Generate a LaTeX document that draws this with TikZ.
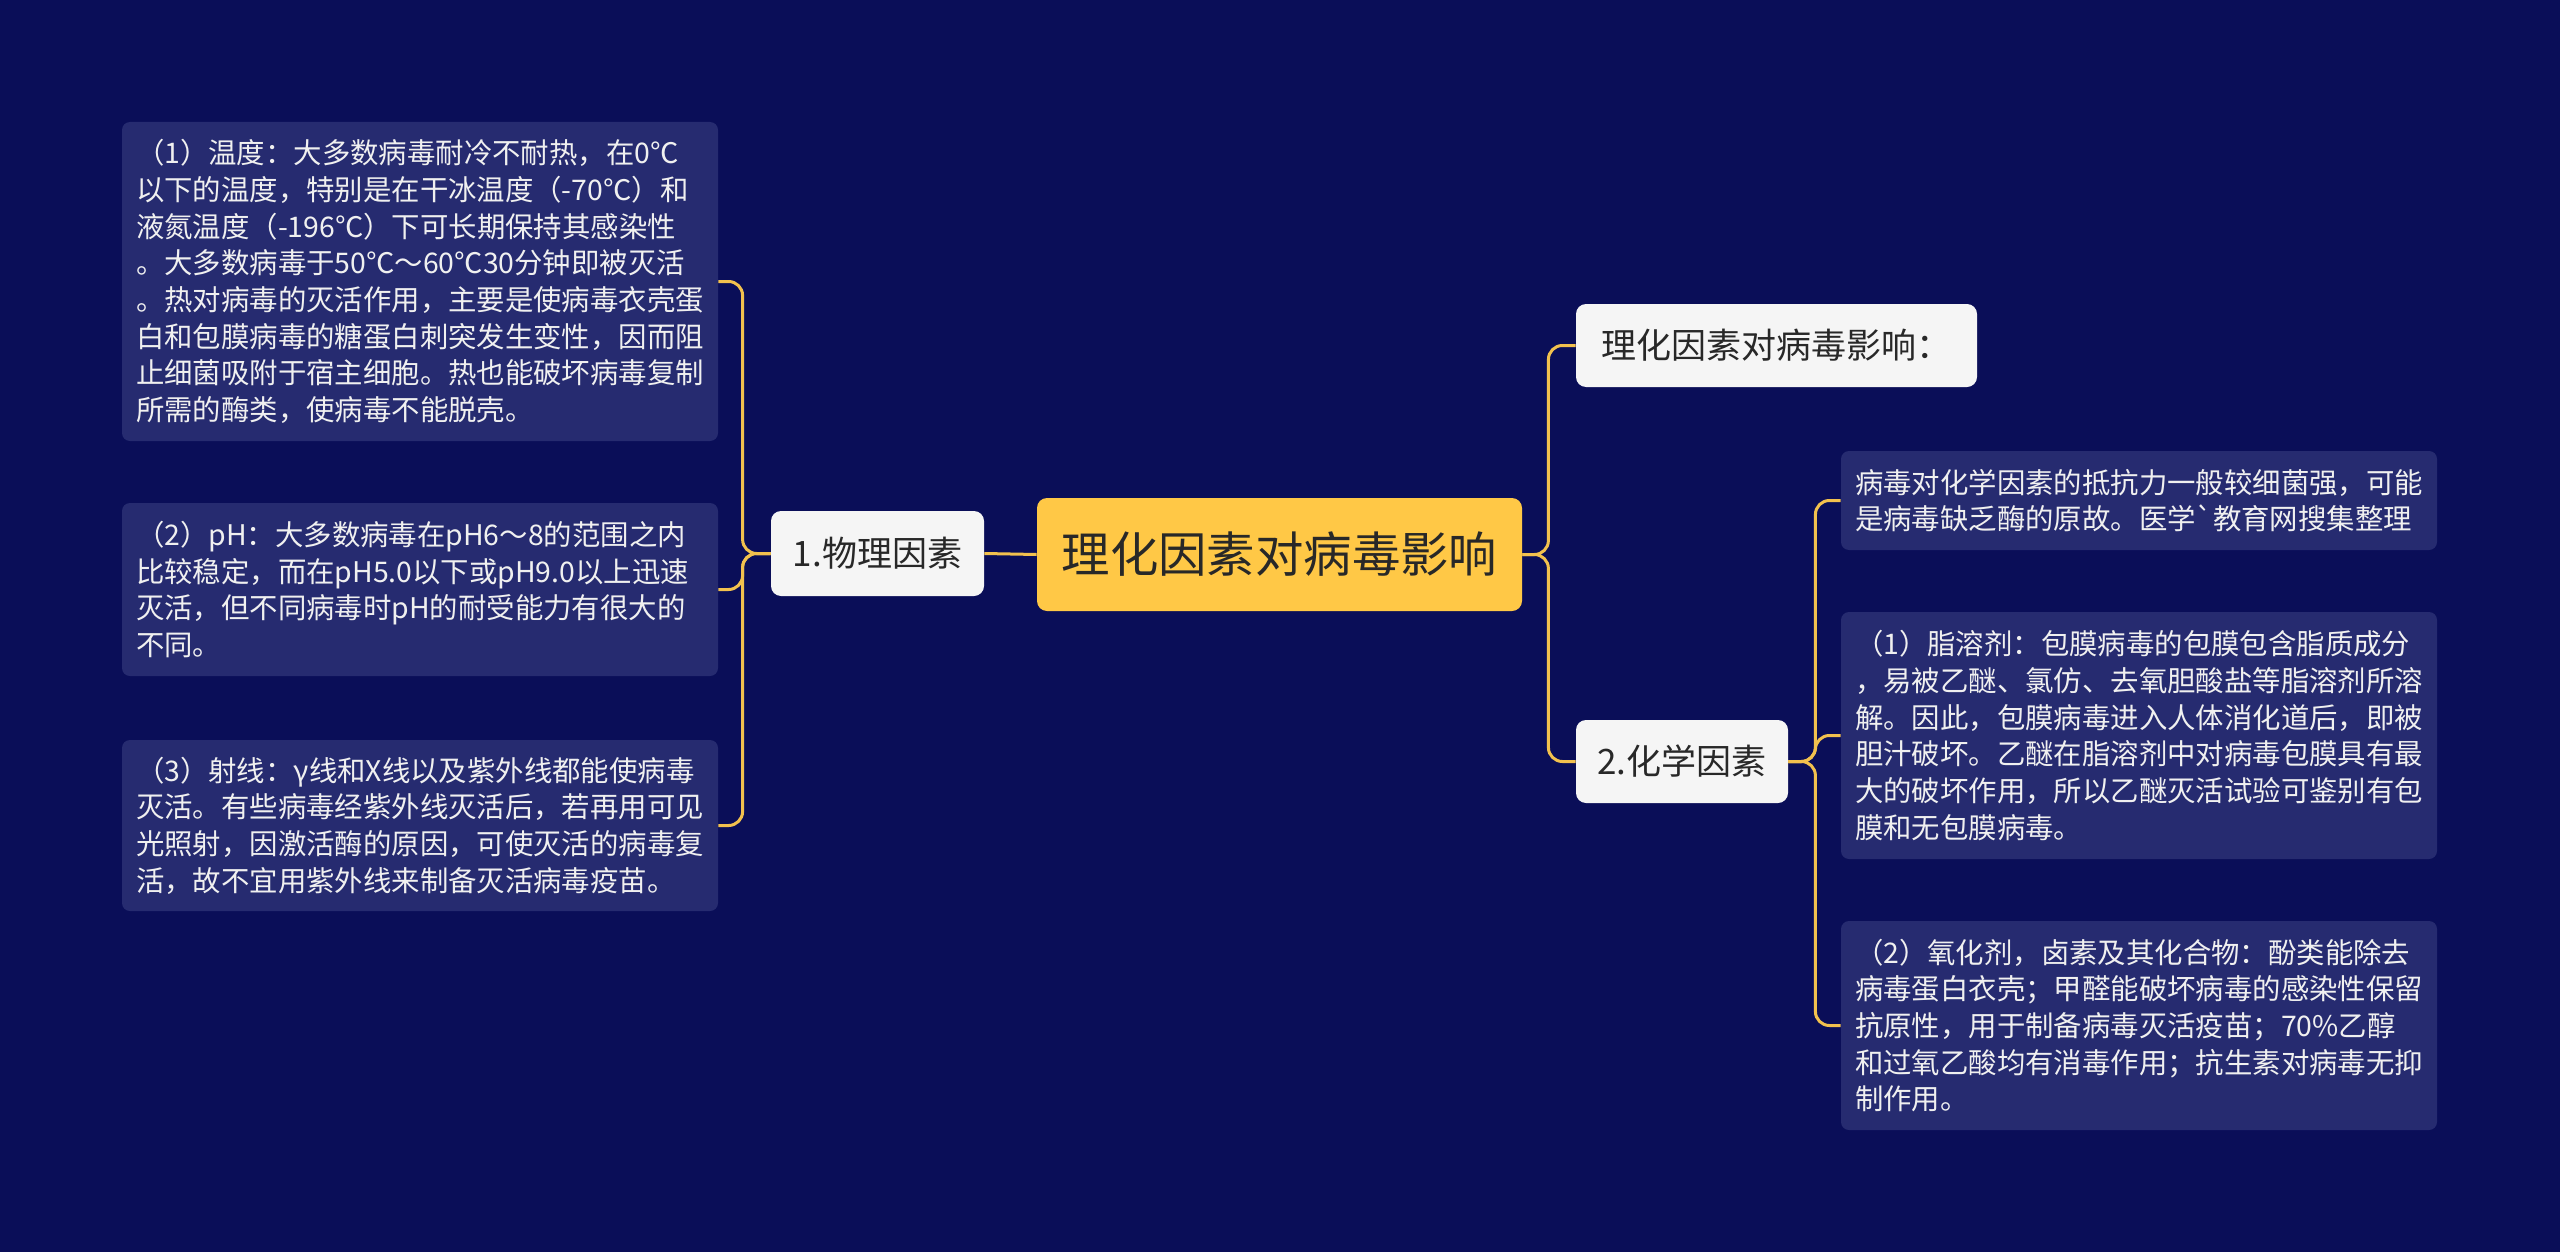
\documentclass[tikz,border=0pt]{standalone}
\usepackage{fontspec}
\setmainfont{Noto Sans CJK SC}[Ligatures=TeXOff]
\definecolor{bgc}{RGB}{10,14,88}
\definecolor{leaffill}{RGB}{38,43,112}
\definecolor{rootfill}{RGB}{255,200,70}
\definecolor{linec}{RGB}{242,193,78}
\definecolor{darktext}{RGB}{40,40,40}
\definecolor{lightfill}{RGB}{245,245,245}
\begin{document}
\begin{tikzpicture}[x=0.5pt,y=-0.5pt,
  leaf/.style={draw=none,fill=leaffill,rounded corners=4pt,text=white!94!black,
    font=\fontsize{14.2pt}{18.35pt}\selectfont,align=left,text width=284pt,
    inner xsep=7pt,inner ysep=0pt,minimum width=298pt,anchor=center},
  levelone/.style={draw=none,fill=lightfill,rounded corners=5pt,text=darktext,
    font=\fontsize{17.5pt}{21pt}\selectfont,inner sep=0pt,anchor=center},
  rootbox/.style={draw=none,fill=rootfill,rounded corners=5pt,text=darktext,
    font=\fontsize{24.2pt}{28pt}\selectfont,inner sep=0pt,anchor=center,
    minimum width=242.5pt,minimum height=56.5pt},
  conn/.style={draw=linec,line width=1.5pt,rounded corners=7pt}]
\fill[bgc] (0,0) rectangle (2560,1252);
\useasboundingbox (0,0) rectangle (2560,1252);

% root
\node[rootbox] (root) at (1279.5,554.5) {理化因素对病毒影响};

% level one
\node[levelone,minimum width=106.5pt,minimum height=42.5pt] (phys) at (877.5,553.5) {1.物理因素};
\node[levelone,minimum width=200.5pt,minimum height=41.5pt] (intro) at (1776.5,345.5) {理化因素对病毒影响：};
\node[levelone,minimum width=106pt,minimum height=41.5pt] (chem) at (1682,761.5) {2.化学因素};

% left leaves
\node[leaf,minimum height=159.5pt] (l1) at (420,281.5) {（1）温度：大多数病毒耐冷不耐热，在0℃\\以下的温度，特别是在干冰温度（-70℃）和\\液氮温度（-196℃）下可长期保持其感染性\\。大多数病毒于50℃～60℃30分钟即被灭活\\。热对病毒的灭活作用，主要是使病毒衣壳蛋\\白和包膜病毒的糖蛋白刺突发生变性，因而阻\\止细菌吸附于宿主细胞。热也能破坏病毒复制\\所需的酶类，使病毒不能脱壳。};
\node[leaf,minimum height=86.5pt] (l2) at (420,589.5) {（2）pH：大多数病毒在pH6～8的范围之内\\比较稳定，而在pH5.0以下或pH9.0以上迅速\\灭活，但不同病毒时pH的耐受能力有很大的\\不同。};
\node[leaf,minimum height=85.5pt] (l3) at (420,825.5) {（3）射线：γ线和X线以及紫外线都能使病毒\\灭活。有些病毒经紫外线灭活后，若再用可见\\光照射，因激活酶的原因，可使灭活的病毒复\\活，故不宜用紫外线来制备灭活病毒疫苗。};

% right leaves
\node[leaf,minimum height=49.5pt] (r1) at (2139,500.5) {病毒对化学因素的抵抗力一般较细菌强，可能\\是病毒缺乏酶的原故。医学`教育网搜集整理};
\node[leaf,minimum height=123.5pt] (r2) at (2139,735.5) {（1）脂溶剂：包膜病毒的包膜包含脂质成分\\，易被乙醚、氯仿、去氧胆酸盐等脂溶剂所溶\\解。因此，包膜病毒进入人体消化道后，即被\\胆汁破坏。乙醚在脂溶剂中对病毒包膜具有最\\大的破坏作用，所以乙醚灭活试验可鉴别有包\\膜和无包膜病毒。};
\node[leaf,minimum height=104.5pt] (r3) at (2139,1025.5) {（2）氧化剂，卤素及其化合物：酚类能除去\\病毒蛋白衣壳；甲醛能破坏病毒的感染性保留\\抗原性，用于制备病毒灭活疫苗；70\%乙醇\\和过氧乙酸均有消毒作用；抗生素对病毒无抑\\制作用。};

% connectors
\draw[conn] (root.west) -- (phys.east);
\foreach \c in {l1,l2,l3}
  \draw[conn] (phys.west) -- ++(-28,0) |- (\c.east);
\foreach \c in {intro,chem}
  \draw[conn] (root.east) -- ++(26,0) |- (\c.west);
\foreach \c in {r1,r2,r3}
  \draw[conn] (chem.east) -- ++(27,0) |- (\c.west);
\end{tikzpicture}
\end{document}
